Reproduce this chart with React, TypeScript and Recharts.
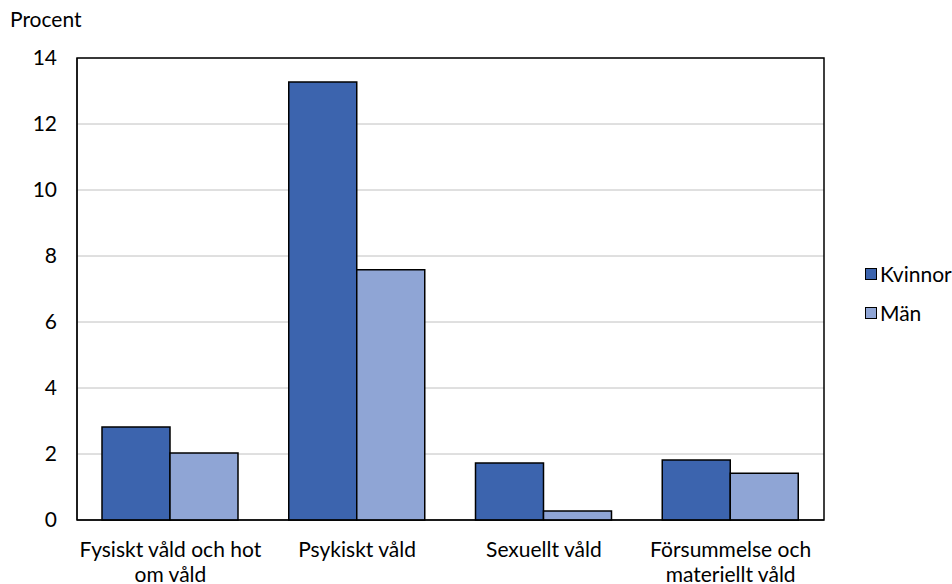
import React from "react";
import { BarChart, Bar, XAxis, YAxis, CartesianGrid, ReferenceArea } from "recharts";

const categories = ["Fysiskt våld och hot\nom våld", "Psykiskt våld", "Sexuellt våld", "Försummelse och\nmateriellt våld"];
const kvinnor = [2.82, 13.27, 1.73, 1.82];
const man = [2.03, 7.58, 0.27, 1.42];
const yTicks = [0, 2, 4, 6, 8, 10, 12, 14];
const seriesNames = ["Kvinnor", "Män"];

const data = categories.map((c, i) => ({ name: c, Kvinnor: kvinnor[i], Män: man[i] }));

const FONT = "Lato, 'Open Sans', sans-serif";
const FS = 21;
const C1 = "#3C64AE";
const C2 = "#8FA5D5";
const colors = [C1, C2];

const XTick = (props: any) => {
  const { x, y, payload } = props;
  const lines = String(payload.value).split("\n");
  return (
    <g transform={`translate(${x},${y})`}>
      {lines.map((l: string, i: number) => (
        <text key={i} x={0} y={29 + i * 25} textAnchor="middle" fill="#000" fontSize={FS} fontFamily={FONT}>
          {l}
        </text>
      ))}
    </g>
  );
};

export default function App() {
  return (
    <div style={{ position: "absolute", left: 0, top: 0, width: 952, height: 584, background: "#fff", overflow: "hidden" }}>
      <div style={{ position: "absolute", left: 10, top: 6, fontFamily: FONT, fontSize: FS, color: "#000", lineHeight: "26px" }}>Procent</div>
      <BarChart width={952} height={584} data={data} margin={{ top: 58, right: 128, bottom: 34, left: 0 }} barCategoryGap={25} barGap={0}>
        <CartesianGrid vertical={false} stroke="#C0C0C0" strokeWidth={1} />
        <XAxis dataKey="name" height={30} tick={<XTick />} tickLine={false} axisLine={{ stroke: "#000" }} interval={0} />
        <YAxis width={77} domain={[0, 14]} ticks={yTicks} tickLine={false} axisLine={{ stroke: "#000" }} tick={{ fill: "#000", fontSize: FS, fontFamily: FONT }} tickMargin={14} />
        <ReferenceArea y1={0} y2={14} fill="none" stroke="#000" strokeWidth={1.5} ifOverflow="visible" />
        <Bar dataKey="Kvinnor" fill={C1} stroke="#000" strokeWidth={1.5} isAnimationActive={false} />
        <Bar dataKey="Män" fill={C2} stroke="#000" strokeWidth={1.5} isAnimationActive={false} />
      </BarChart>
      <div style={{ position: "absolute", left: 865, top: 254, fontFamily: FONT, fontSize: FS, color: "#000", whiteSpace: "nowrap" }}>
        {seriesNames.map((n, i) => (
          <div key={n} style={{ display: "flex", alignItems: "center", height: 39 }}>
            <span style={{ display: "inline-block", width: 10, height: 10, background: colors[i], border: "1.5px solid #000", marginRight: 3 }} />
            <span>{n}</span>
          </div>
        ))}
      </div>
    </div>
  );
}
